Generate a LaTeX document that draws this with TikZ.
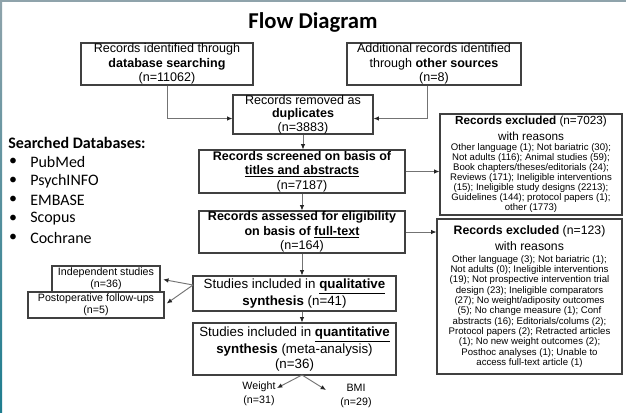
\documentclass[tikz,border=0pt]{standalone}
\usepackage{fontspec}
\setmainfont{Liberation Sans}
\newfontfamily\calfont{Carlito}
\usetikzlibrary{arrows.meta}
\begin{document}
\begin{tikzpicture}[x=0.75pt,y=-0.75pt,
  box/.style={draw=black!75, line width=0.8pt, align=center, inner sep=0pt,
    font=\fontsize{9.4}{10.8}\selectfont},
  bigbox/.style={box, font=\fontsize{10}{11.25}\selectfont},
  smallbox/.style={draw=black!75, line width=0.8pt, align=center, inner sep=0pt,
    font=\fontsize{8}{9.2}\selectfont},
  exbox/.style={draw=black!75, line width=0.8pt, align=center, inner sep=0pt},
  lbl/.style={align=center, inner sep=0pt, font=\fontsize{8}{10.5}\selectfont},
  dbitem/.style={anchor=west, inner sep=0pt, font=\calfont\fontsize{12}{14}\selectfont},
  conn/.style={draw=black!55, line width=0.7pt,
    -{Latex[length=4pt,width=3.4pt,color=black!85]}},
]
\useasboundingbox (0,0) rectangle (626,412);
\fill[white] (0,0) rectangle (626,412);
\fill[fill={rgb,255:red,143;green,163;blue,171}] (0,0) rectangle (626,2);
\shade[top color={rgb,255:red,143;green,163;blue,171}, bottom color={rgb,255:red,30;green,125;blue,143}] (0,0) rectangle (2,412);

% title
\node[font=\calfont\bfseries\fontsize{17}{20}\selectfont] (title) at (313,22) {Flow Diagram};

% main column
\node[box, minimum width=129pt, minimum height=31.5pt] (b1) at (167,64)
  {Records identified through\\\textbf{database searching}\\(n=11062)};
\node[box, minimum width=130.5pt, minimum height=31.5pt] (b2) at (434,64)
  {Additional records identified\\through \textbf{other sources}\\(n=8)};
\node[box, font=\fontsize{9.4}{10.2}\selectfont, minimum width=105pt, minimum height=29.25pt] (b3) at (303,114.5)
  {Records removed as\\\textbf{duplicates}\\(n=3883)};
\node[box, minimum width=154.5pt, minimum height=32.25pt] (b4) at (302,171.5)
  {\textbf{Records screened on basis of}\\\textbf{\underline{titles and abstracts}}\\(n=7187)};
\node[box, minimum width=154.5pt, minimum height=31.5pt] (b5) at (302,232)
  {\textbf{Records assessed for eligibility}\\\textbf{on basis of \underline{full-text}}\\(n=164)};
\node[bigbox, minimum width=152.25pt, minimum height=26.25pt] (b6) at (294.5,293.5)
  {Studies included in \textbf{\underline{qualitative}}\\\textbf{synthesis} (n=41)};
\node[bigbox, minimum width=152.25pt, minimum height=39pt] (b7) at (294.5,349)
  {Studies included in \textbf{\underline{quantitative}}\\\textbf{synthesis} (meta-analysis)\\(n=36)};

% side boxes
\node[smallbox, minimum width=81pt, minimum height=19.5pt] (ind) at (106,279)
  {Independent studies\\(n=36)};
\node[smallbox, minimum width=102pt, minimum height=19.5pt] (post) at (96,305)
  {Postoperative follow-ups\\(n=5)};

% outcome labels
\node[lbl] (wt) at (259,394) {Weight\\(n=31)};
\node[lbl] (bmi) at (356,396) {BMI\\(n=29)};

% exclusion boxes
\node[exbox, font=\fontsize{7.2}{7.5}\selectfont, minimum width=136.5pt, minimum height=75.75pt] (exA) at (531,164.5)
  {{\fontsize{8.8}{10}\selectfont\textbf{Records excluded} (n=7023)}\\[2.2pt]
   {\fontsize{8.8}{10}\selectfont with reasons}\\[0.5pt]
   Other language (1); Not bariatric (30);\\
   Not adults (116); Animal studies (59);\\
   Book chapters/theses/editorials (24);\\
   Reviews (171); Ineligible interventions\\
   (15); Ineligible study designs (2213);\\
   Guidelines (144); protocol papers (1);\\
   other (1773)};
\node[exbox, font=\fontsize{7.2}{7.75}\selectfont, minimum width=138.75pt, minimum height=116.25pt] (exB) at (529.5,296.5)
  {{\fontsize{9.2}{10}\selectfont\textbf{Records excluded} (n=123)}\\[2.5pt]
   {\fontsize{9.2}{10}\selectfont with reasons}\\[1pt]
   Other language (3); Not bariatric (1);\\
   Not adults (0); Ineligible interventions\\
   (19); Not prospective intervention trial\\
   design (23); Ineligible comparators\\
   (27); No weight/adiposity outcomes\\
   (5); No change measure (1); Conf\\
   abstracts (16); Editorials/colums (2);\\
   Protocol papers (2); Retracted articles\\
   (1); No new weight outcomes (2);\\
   Posthoc analyses (1); Unable to\\
   access full-text article (1)};

% searched databases
\node[anchor=west, inner sep=0pt, font=\calfont\bfseries\fontsize{12}{14}\selectfont] (sdb) at (8,143) {Searched Databases:};
\foreach \name [count=\i] in {PubMed,PsychINFO,EMBASE,Scopus,Cochrane}{
  \node[dbitem] (db\i) at (30,143+19*\i) {\name};
  \node[inner sep=0pt, font=\calfont\fontsize{12}{14}\selectfont] (bul\i) at (13,143+19*\i) {•};
}

% connectors
\coordinate (j6) at (193,285);
\coordinate (j7) at (302,375);
\coordinate (wtip) at (277,388);
\coordinate (btip) at (326,390);
\draw[conn] (b1.south) |- ([yshift=-3pt]b3.west);
\draw[conn] ([xshift=-5pt]b2.south) |- ([yshift=-3pt]b3.east);
\draw[conn] (b3.south) -- (b3.south |- b4.north);
\draw[conn] (b4.south) -- (b4.south |- b5.north);
\draw[conn] (b5.south) -- (b5.south |- b6.north);
\draw[conn] (b6.south -| b5.south) -- (b5.south |- b7.north);
\draw[conn] (b4.east) -- (b4.east -| exA.west);
\draw[conn] (b5.east) -- (b5.east -| exB.west);
\draw[conn, shorten >=2pt] (j6) -- (ind.east);
\draw[conn, shorten >=2pt] (j6) -- (post.east);
\draw[conn] (j7) -- (wtip);
\draw[conn] (j7) -- (btip);
\end{tikzpicture}
\end{document}
